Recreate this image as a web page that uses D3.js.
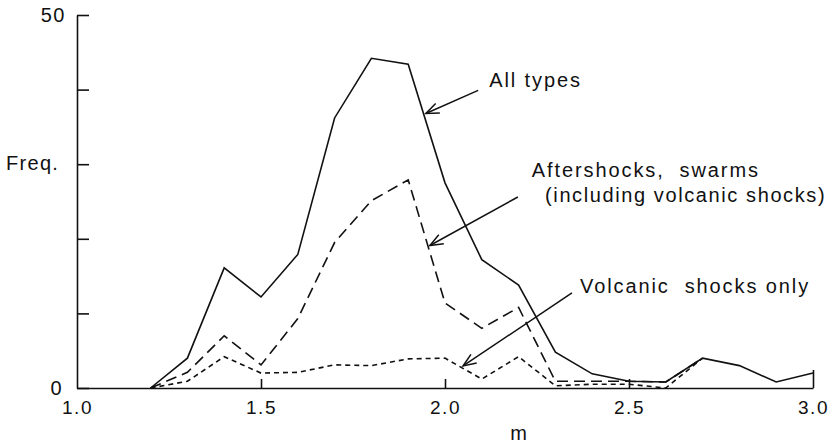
<!DOCTYPE html>
<html><head><meta charset="utf-8">
<script src="https://cdn.jsdelivr.net/npm/d3@7"></script>
<style>
body{margin:0;background:#fff;}
svg{display:block;}
text{font-family:"Liberation Sans",Arial,sans-serif;fill:#111;}
</style></head>
<body><svg id="c" width="835" height="446"></svg>
<script>
// ---- data ----
const magnitudes = [1.2,1.3,1.4,1.5,1.6,1.7,1.8,1.9,2.0,2.1,2.2,2.3,2.4,2.5,2.6,2.7,2.8,2.9,3.0];
const allTypes    = [0,4.0,16.1,12.2,17.9,36.2,44.2,43.4,27.5,17.2,13.8,4.8,1.9,0.9,0.8,4.0,3.0,0.8,2.0];
const aftershocks = [0,2.1,7.0,3.1,9.3,19.5,25.1,27.9,11.4,8.0,10.8,0.9,0.9,0.9,0.8,4.0];
const volcanic    = [0,0.9,4.2,2.0,2.1,3.1,3.0,3.9,4.0,1.2,4.2,0.3,0.5,0.5,0.0,4.0];
const xTicks = [1.0,1.5,2.0,2.5,3.0];
const yTicks = [0,10,20,30,40,50];
const yTickLabels = ["0","","","","","50"];
const annotations = [
  {lines:["All types"], tx:[2.12], ty:40.4, from:[2.090,39.9], to:[1.948,36.8]},
  {lines:["Aftershocks,  swarms","(including volcanic shocks)"], tx:[2.236,2.272], ty:28.3, from:[2.198,25.6], to:[1.959,19.1]},
  {lines:["Volcanic  shocks only"], tx:[2.367], ty:12.75, from:[2.345,12.75], to:[2.049,2.95]}
];

// ---- drawing ----
const svg = d3.select("#c");
const x = d3.scaleLinear().domain([1,3]).range([77,813]);
const y = d3.scaleLinear().domain([0,50]).range([388,15]);
const ink = "#111";

// y axis
const yAxis = svg.append("g").attr("transform","translate(77,0)")
  .call(d3.axisLeft(y).tickValues(yTicks).tickSizeInner(-12).tickSizeOuter(0)
        .tickFormat((d,i)=>yTickLabels[i]).tickPadding(11));
yAxis.selectAll("path,line").attr("stroke",ink).attr("stroke-width",1.6);
yAxis.selectAll("text").attr("font-size",20).attr("letter-spacing",1.5).attr("fill",ink)
  .attr("font-family","Liberation Sans, Arial, sans-serif")
  .attr("dx",(d)=> d===0 ? -3 : 0);

// x axis
const xAxis = svg.append("g").attr("transform","translate(0,388)")
  .call(d3.axisBottom(x).tickValues(xTicks).tickSizeInner(-9).tickSizeOuter(0)
        .tickFormat(d3.format(".1f")).tickPadding(12));
xAxis.selectAll("path,line").attr("stroke",ink).attr("stroke-width",1.6);
xAxis.selectAll(".tick line").attr("y2",(d)=> d===3 ? -18 : (d===1 ? 0 : -9));
xAxis.selectAll("text").attr("font-size",19).attr("letter-spacing",1.5).attr("fill",ink)
  .attr("font-family","Liberation Sans, Arial, sans-serif").attr("dy","0.75em");

// axis titles
svg.append("text").attr("x",6).attr("y",y(30)+6).attr("font-size",20).attr("letter-spacing",1.3)
  .text("Freq.");
svg.append("text").attr("x",x(2.2)).attr("y",440).attr("text-anchor","middle").attr("font-size",20)
  .text("m");

// series lines
const line = d3.line().x((d)=>x(d[0])).y((d)=>y(d[1]));
function series(vals, dash){
  const pts = vals.map((v,i)=>[magnitudes[i],v]);
  svg.append("path").attr("d",line(pts)).attr("fill","none").attr("stroke",ink)
    .attr("stroke-width",1.6).attr("stroke-linejoin","miter")
    .attr("stroke-dasharray",dash);
}
series(volcanic,"5,4");
series(aftershocks,"11,6");
series(allTypes,null);

// annotations
annotations.forEach(a=>{
  const t = svg.append("text").attr("y",y(a.ty))
    .attr("font-size",20).style("white-space","pre");
  a.lines.forEach((l,i)=>{
    t.append("tspan").attr("x",x(a.tx[i])).attr("dy", i===0?0:25)
      .attr("letter-spacing", i===0?1.9:1.6).text(l);
  });
  const x1=x(a.from[0]), y1=y(a.from[1]), x2=x(a.to[0]), y2=y(a.to[1]);
  svg.append("line").attr("x1",x1).attr("y1",y1).attr("x2",x2).attr("y2",y2)
    .attr("stroke",ink).attr("stroke-width",1.5);
  const ang = Math.atan2(y1-y2,x1-x2), L=14, h=0.38;
  const p1=[x2+L*Math.cos(ang+h), y2+L*Math.sin(ang+h)];
  const p2=[x2+L*Math.cos(ang-h), y2+L*Math.sin(ang-h)];
  svg.append("path").attr("d",`M${p1}L${x2},${y2}L${p2}`).attr("fill","none")
    .attr("stroke",ink).attr("stroke-width",1.5);
});
</script></body></html>
